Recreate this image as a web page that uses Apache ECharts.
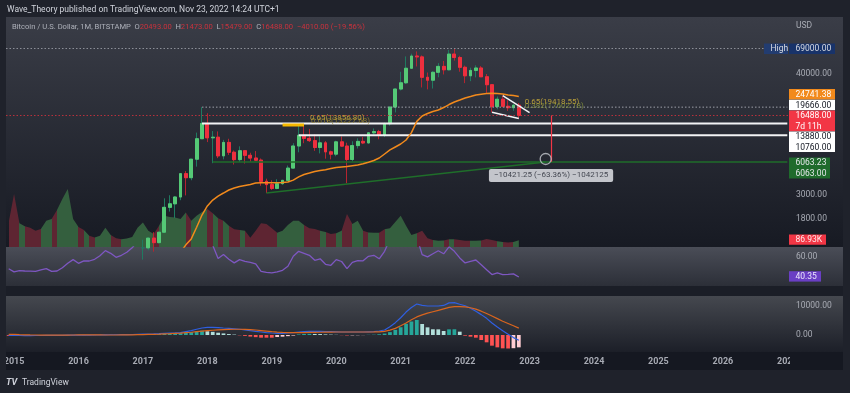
<!DOCTYPE html>
<html><head><meta charset="utf-8">
<script src="https://cdn.jsdelivr.net/npm/echarts@6/dist/echarts.min.js"></script>
<style>html,body{margin:0;padding:0;background:#1f222b;}#c{width:850px;height:393px;}</style>
</head><body><div id="c"></div><script>
// ---------- DATA (monthly, starting 2014-12) ----------
const opens  = [378,320,218,254,244,236,230,263,284,230,236,311,377,430,369,437,416,448,531,673,624,574,609,701,745,963,965,1190,1080,1350,2300,2480,2870,4730,4340,6450,10000,13880,10200,10330,6930,9240,7490,6390,7730,7010,6610,6320,4020,3740,3450,3820,4100,5330,8560,10760,10080,9600,8290,9150,7550,7190,9350,8540,6410,8630,9450,9140,11350,11660,10780,13800,19700,28990,33140,45240,58800,57700,37300,35040,41500,47100,43800,61300,57000,46200,38500,43200,45500,37700,31800,19900,23300,20050,19420,20493];
const highs  = [382,320,265,300,261,247,268,317,286,245,333,502,465,462,448,439,467,549,780,704,628,623,720,752,980,1150,1200,1350,1350,2790,2980,2920,4750,5000,6470,11400,19666,17250,11790,11700,9760,9990,7770,8500,7760,7410,7680,6550,4250,4110,4200,4140,5630,9090,13880,13200,12330,10950,10540,9510,7750,9580,10500,9190,9470,10080,10390,11450,12470,12080,14100,19860,29300,41950,58350,61780,64900,59600,41300,42400,50500,52900,67000,69000,59100,47900,45800,48200,47400,40000,31900,24700,25200,22800,20990,21473];
const lows   = [300,152,212,235,214,227,220,250,195,223,235,300,350,350,365,394,412,436,525,605,465,569,604,680,740,750,915,890,1060,1340,2100,1830,2680,2970,4110,5500,10400,9300,5920,6600,6430,7060,5750,6070,5880,6110,6190,3650,3120,3340,3390,3730,4040,5330,7480,9080,9320,7710,7300,6520,6430,6870,8450,3850,6160,8110,8910,8990,10950,9880,10380,13230,17570,28130,32300,45000,47000,30000,28800,29300,37300,39600,43300,53300,42000,32900,34300,37200,37600,26700,17600,18800,19600,18150,18180,15479];
const closes = [320,218,254,244,236,230,263,284,230,236,311,377,430,369,437,416,448,531,673,624,574,609,701,745,963,965,1190,1080,1350,2300,2480,2870,4730,4340,6450,10000,13880,10200,10330,6930,9240,7490,6390,7730,7010,6610,6320,4020,3740,3450,3820,4100,5330,8560,10760,10080,9600,8290,9150,7550,7190,9350,8540,6410,8630,9450,9140,11350,11660,10780,13800,19700,28990,33140,45240,58800,57700,37300,35040,41500,47100,43800,61300,57000,46200,38500,43200,45500,37700,31800,19900,23300,20050,19420,20490,16488];
const volumeK = [320,690,310,270,250,210,235,340,365,480,625,755,365,260,220,145,125,145,250,155,115,100,110,130,250,320,210,170,275,405,390,385,365,450,340,405,455,495,440,375,340,275,230,220,210,120,210,310,300,245,185,210,285,340,340,285,245,235,210,195,170,180,210,430,300,340,210,190,185,185,230,245,325,405,275,155,180,210,115,90,80,85,100,100,90,80,80,80,85,105,90,75,65,60,65,86.93];
const ma20 = [null,null,null,null,null,null,null,null,null,null,null,null,null,null,null,null,null,null,null,null,null,null,null,null,null,null,null,null,null,null,700,780,880,1030,1170,1500,1950,2370,2690,2930,3125,3335,3480,3590,3670,3750,3870,3900,3900,3900,3900,3910,3955,4120,4420,4650,4800,4960,5060,5140,5280,5400,5460,5510,5600,5690,5840,6040,6270,6620,7210,7860,8380,8930,9730,11400,14500,16270,17170,17920,18500,19500,20800,21960,22900,23920,24700,25520,25960,26300,26440,26300,26060,25500,25240,24741.38];
const rsi = [48.5,45.4,46.7,46.3,46.2,46,47.5,48.7,46,46.3,49.5,54,57.7,54,56.5,56.3,58,61.5,66.7,64,60,62,65,69.5,76,78,82,76,82,90,89,89,93,89,93,96,96,85,72,58.7,62.7,58,54.4,57.7,56,55,53.5,46,45,44.4,45.5,47,51,61,66,64,62,57,58.5,53,52,57.7,55.8,48.7,55,56.7,56.5,61,62,58.5,66,78,84,84,88,89,80,62.7,60.4,63.5,66.5,63.5,70.5,66,59.4,54.4,56,57.3,52.5,47.5,42.7,44.4,42.7,43,43.4,40.35];
const macdLine = [-100,-150,-180,-190,-190,-180,-170,-150,-140,-130,-100,-60,-40,-30,-20,-10,0,20,60,80,90,110,130,170,250,300,350,420,500,600,700,750,850,1200,1550,2000,2440,2650,2680,2600,2440,2300,2150,2000,1800,1500,1250,1050,850,700,590,600,700,850,1000,1150,1250,1290,1290,1200,1150,1100,1050,1050,1050,1045,1050,1100,1150,1400,1740,2900,4300,6000,8000,9600,10800,10300,10100,10100,10100,10300,11200,11300,10700,10200,9300,8300,7100,5800,4200,2800,1500,300,-900,-1800];
const signalLine = [200,200,120,60,10,0,-20,-30,-20,-30,-20,-10,0,10,10,20,20,30,0,0,0,10,20,40,100,150,200,250,300,380,450,550,650,800,950,1150,1350,1500,1650,1800,1900,1970,2000,2000,1970,1900,1750,1550,1350,1150,1000,900,820,800,820,850,900,930,960,1000,1020,1040,1045,1045,1045,1045,1045,1050,1060,1100,1250,1700,2300,3200,4200,5300,6300,7000,7600,8100,8600,9100,9600,9860,9900,9800,9500,9000,8300,7500,6600,5700,4800,4000,3200,2400];
const macdHist = [-300,-350,-300,-250,-200,-180,-150,-120,-120,-100,-80,-50,-40,-40,-30,-30,-20,-10,60,80,90,100,110,130,180,220,260,300,360,420,480,550,650,800,1000,1250,1510,1300,1100,800,550,330,150,-100,-300,-550,-750,-930,-930,-930,-700,-580,-400,-200,200,350,400,360,330,200,130,60,-60,-150,-120,-80,-40,60,100,250,500,1000,1800,2700,3900,4700,5230,3830,2670,2000,1970,1390,1970,2000,1160,-230,-580,-930,-1740,-2550,-3720,-4300,-4650,-4700,-4600,-4300];
const priceTicks = [1800, 3000, 40000];
const rsiTicks = [60];
const macdTicks = [0, 10000];
// drawings
const level13880 = [['2017-12', 13880], ['2027-01', 13880]];
const level10760 = [['2019-06', 10760], ['2027-01', 10760]];
const level19666 = [['2017-12', 19666], ['2027-01', 19666]];
const level6063  = [['2018-02', 6063], ['2027-01', 6063]];
const trendLine  = [['2018-12', 3122], ['2023-04', 6063]];
const flagUpper  = [['2022-08', 25180], ['2023-01', 17530]];
const flagLower  = [['2022-06', 17610], ['2022-11', 15420]];
const fibBar     = [['2019-03', 13420], ['2019-07', 13420]];
const athPrice = 69000, lastPrice = 16488;
const arrowLine = [['2023-05', 16488], ['2023-05', 6110]];
const cursorCircle = ['2023-04', 6475];
const fibLabels = [
  {at: ['2019-08', 15585], text: '0.618(13227.68)', color: '#9c872c', dx: 1, dy: 3},
  {at: ['2019-08', 15585], text: '0.65(13856.80)', color: '#d6b53a', dx: 0, dy: 0},
  {at: ['2022-12', 21960], text: '0.382(17602.18)', color: '#8b9a3c', dx: 0, dy: 4},
  {at: ['2022-12', 21960], text: '0.65(19418.55)', color: '#d6b53a', dx: 0, dy: 0}
];
const measureAt = ['2023-05', 4550];
const measureText = '\u221210421.25 (\u221263.36%) \u22121042125';

// categories: months 2014-12 .. 2027-01
const months = [];
(function(){ let y = 2014, m = 12; for (let k = 0; k < 146; k++) { months.push(y + '-' + String(m).padStart(2, '0')); m++; if (m > 12) { m = 1; y++; } } })();

const FONT = 'Roboto, "Noto Sans", sans-serif';
const UP_BODY = '#55c976', UP_WICK = '#1f7a60', DN_BODY = '#ee2f3e', DN_WICK = '#b52430';

const candleFull = opens.map((o, i) => [o, closes[i], lows[i], highs[i]]);
const candleBody = opens.map((o, i) => [o, closes[i], Math.min(o, closes[i]), Math.max(o, closes[i])]);
const volPieces = opens.map((o, i) => ({gte: i - 0.5, lt: i + 0.5, color: closes[i] >= o ? '#345f3e' : '#5e2532'}));
const histData = macdHist.map((h, i) => {
  const prev = i > 0 ? macdHist[i - 1] : h;
  const c = h >= 0 ? (h < prev ? '#b2dfdb' : '#26a69a') : (h > prev ? '#ffcdd2' : '#ff5252');
  return {value: h, itemStyle: {color: c}};
});

const G = {left: 6, width: 784, outerBoundsMode: 'none', containLabel: false};
const grids = [
  Object.assign({top: 17, height: 230}, G),
  Object.assign({top: 167, height: 80}, G),
  Object.assign({top: 247, height: 39}, G),
  Object.assign({top: 296, height: 56}, G)
];
function xAx(gi, showLabel) {
  return {type: 'category', gridIndex: gi, data: months, boundaryGap: true,
    axisLine: {show: false}, axisTick: {show: false}, splitLine: {show: false},
    axisLabel: showLabel ? {show: true, interval: (i, v) => v.endsWith('-01'), formatter: v => v.slice(0, 4),
      color: '#a7aab3', fontSize: 9, fontWeight: 'bold', fontFamily: FONT, margin: 5} : {show: false}};
}
const axLabel = {color: '#a9acb5', fontSize: 8.5, fontFamily: FONT, margin: 6, formatter: v => Number(v).toFixed(2)};

function seg(data, color, width, type, gi) {
  return {type: 'line', xAxisIndex: gi || 0, yAxisIndex: gi || 0, data, symbol: 'none', silent: true, z: 4,
    lineStyle: {color, width, type: type || 'solid'}, animation: false};
}

const series = [
  {type: 'line', xAxisIndex: 1, yAxisIndex: 1, data: volumeK, symbol: 'none', z: 1,
   lineStyle: {width: 0}, areaStyle: {opacity: 1}},
  {type: 'candlestick', xAxisIndex: 0, yAxisIndex: 0, data: candleFull, barWidth: '62%', z: 2,
   itemStyle: {color: UP_BODY, color0: DN_BODY, borderColor: UP_WICK, borderColor0: DN_WICK, borderWidth: 1}},
  {type: 'candlestick', xAxisIndex: 0, yAxisIndex: 0, data: candleBody, barWidth: '62%', z: 3,
   itemStyle: {color: UP_BODY, color0: DN_BODY, borderColor: UP_BODY, borderColor0: DN_BODY, borderWidth: 1}},
  seg(level19666, '#9da0a8', 1, [1.5, 2]),
  seg(level13880, '#f2f3f5', 2),
  seg(level10760, '#f2f3f5', 2),
  seg(level6063, '#1f6e2a', 1.5),
  seg(trendLine, '#1f6e2a', 1.5),
  seg(fibBar, '#f5b800', 3),
  {type: 'line', xAxisIndex: 0, yAxisIndex: 0, data: ma20, symbol: 'none', z: 5, connectNulls: false,
   lineStyle: {color: '#f28a1c', width: 1.5},
   markLine: {silent: true, symbol: 'none', label: {show: false}, animation: false, data: [
     {yAxis: athPrice, lineStyle: {color: '#8c8f98', type: [1.5, 2], width: 1}},
     {yAxis: lastPrice, lineStyle: {color: '#b8303c', type: [1.5, 2], width: 1}}
   ]}},
  seg(flagUpper, '#f2f3f5', 1.5),
  seg(flagLower, '#f2f3f5', 1.5),
  {type: 'line', xAxisIndex: 0, yAxisIndex: 0, data: [], symbol: 'none', z: 6,
   markLine: {silent: true, symbol: ['none', 'arrow'], symbolSize: [0, 7], label: {show: false}, animation: false,
     lineStyle: {color: '#f23645', width: 1.2, type: 'solid'},
     data: [[{coord: arrowLine[0]}, {coord: arrowLine[1]}]]}},
  {type: 'scatter', xAxisIndex: 0, yAxisIndex: 0, z: 7, silent: true,
   data: [{value: cursorCircle, symbol: 'circle', symbolSize: 11,
           itemStyle: {color: 'rgba(0,0,0,0)', borderColor: '#c6c9d0', borderWidth: 1.3}}]
     .concat(fibLabels.map(f => ({value: f.at, symbolSize: 1, itemStyle: {color: 'rgba(0,0,0,0)'},
        label: {show: true, position: 'right', distance: 0, offset: [f.dx, f.dy], formatter: f.text,
          color: f.color, fontSize: 8, fontFamily: FONT}})))
     .concat([{value: measureAt, symbolSize: 1, itemStyle: {color: 'rgba(0,0,0,0)'},
        label: {show: true, position: 'inside', formatter: measureText, color: '#1e222d', fontSize: 8, fontFamily: FONT,
          backgroundColor: '#eceef2', borderRadius: 2, padding: [3, 5, 2, 5]}}])},
  {type: 'line', xAxisIndex: 2, yAxisIndex: 2, data: rsi, symbol: 'none', z: 3,
   lineStyle: {color: '#7e57c2', width: 1.3}},
  {type: 'bar', xAxisIndex: 3, yAxisIndex: 3, data: histData, barWidth: '70%', z: 2},
  {type: 'line', xAxisIndex: 3, yAxisIndex: 3, data: macdLine, symbol: 'none', z: 3,
   lineStyle: {color: '#2f5fe0', width: 1.2}},
  {type: 'line', xAxisIndex: 3, yAxisIndex: 3, data: signalLine, symbol: 'none', z: 3,
   lineStyle: {color: '#d9651e', width: 1.2}}
];

function rect(x, y, w, h, fill, z) { return {type: 'rect', shape: {x, y, width: w, height: h}, style: {fill}, z: z, silent: true}; }
function vgrad(a, b) { return new echarts.graphic.LinearGradient(0, 0, 0, 1, [{offset: 0, color: a}, {offset: 1, color: b}]); }
function txt(x, y, s, fill, size, extra, z) {
  return Object.assign({type: 'text', x, y, z: z || 60, silent: true,
    style: Object.assign({text: s, fill, fontSize: size, fontFamily: FONT, verticalAlign: 'middle', align: 'left'}, extra || {})});
}
function box(x, y, w, h, bg, fg, lines) {
  const out = [rect(x, y, w, h, bg, 50)];
  const lh = h / lines.length;
  lines.forEach((s, k) => out.push(txt(x + 6.5, y + lh * k + lh / 2 + 0.5, s, fg, 8.5)));
  return out;
}

const graphics = [
  rect(6, 17, 837, 230, vgrad('#3a3d47', '#171a23'), -100),
  rect(6, 247, 837, 39, vgrad('#4a4d57', '#2c2f38'), -100),
  rect(6, 286, 837, 10, '#1b1e27', -100),
  rect(6, 296, 837, 56, vgrad('#45484f', '#1c1f28'), -100),
  rect(6, 352, 837, 18, '#151821', -100),
  // header
  txt(7, 10, 'Wave_Theory published on TradingView.com, Nov 23, 2022 14:24 UTC+1', '#d1d4dc', 8.5),
  txt(12, 27, 'Bitcoin / U.S. Dollar, 1M, BITSTAMP  O{r|20493.00}  H{r|21473.00}  L{r|15479.00}  C{r|16488.00}  {r|\u22124010.00 (\u221219.56%)}',
      '#aeb1ba', 7.6, {rich: {r: {fill: '#c9323d', fontSize: 7.6, fontFamily: FONT}}}),
  txt(796, 26, 'USD', '#a9acb5', 8.5),
  // price-scale tags
  ...box(764, 43.5, 24, 10.5, '#223c70', '#d6d9e0', ['High']),
  ...box(789, 43.5, 46, 10.5, '#18336a', '#d6d9e0', ['69000.00']),
  ...box(789, 89, 46, 10.5, '#f28a1c', '#ffffff', ['24741.38']),
  ...box(789, 99.8, 46, 10.5, '#ffffff', '#131722', ['19666.00']),
  ...box(789, 110.6, 46, 20.6, '#f23645', '#ffffff', ['16488.00', '7d 11h']),
  ...box(789, 131.5, 46, 20.6, '#ffffff', '#131722', ['13880.00', '10760.00']),
  ...box(789, 157.6, 41, 21, '#1f6b2c', '#e6e8ec', ['6063.23', '6063.00']),
  ...box(789, 234.4, 37, 10.4, '#f23645', '#ffe9ea', ['86.93K']),
  ...box(789, 271.2, 32, 10.4, '#6a3fc4', '#ece6fb', ['40.35']),
  // clip the time labels at pane edges
  rect(790, 352, 53, 18, '#151821', 40),
  rect(0, 352, 6, 18, '#1f222b', 40),
  // footer logo
  txt(6, 383, 'TV', '#d1d4dc', 9, {fontWeight: 'bold', fontStyle: 'italic'}),
  txt(22, 383, 'TradingView', '#d1d4dc', 8.5)
];

const option = {
  animation: false,
  backgroundColor: '#1f222b',
  grid: grids,
  xAxis: [xAx(0, false), xAx(1, false), xAx(2, false), xAx(3, true)],
  yAxis: [
    {type: 'log', logBase: 10, gridIndex: 0, position: 'right', min: 983.5, max: 135640,
     axisLine: {show: false}, axisTick: {show: false}, splitLine: {show: false},
     axisLabel: Object.assign({customValues: priceTicks}, axLabel)},
    {type: 'value', gridIndex: 1, min: 0, max: 1040, show: false, splitLine: {show: false}},
    {type: 'value', gridIndex: 2, position: 'right', min: 31.3, max: 70.3,
     axisLine: {show: false}, axisTick: {show: false}, splitLine: {show: false},
     axisLabel: Object.assign({customValues: rsiTicks}, axLabel)},
    {type: 'value', gridIndex: 3, position: 'right', min: -5923, max: 13590,
     axisLine: {show: false}, axisTick: {show: false}, splitLine: {show: false},
     axisLabel: Object.assign({customValues: macdTicks}, axLabel)}
  ],
  visualMap: [{type: 'piecewise', show: false, dimension: 0, seriesIndex: 0, pieces: volPieces}],
  series,
  graphic: {elements: graphics}
};
const chart = echarts.init(document.getElementById('c'), null, {renderer: 'canvas', width: 850, height: 393});
chart.setOption(option);
</script></body></html>
